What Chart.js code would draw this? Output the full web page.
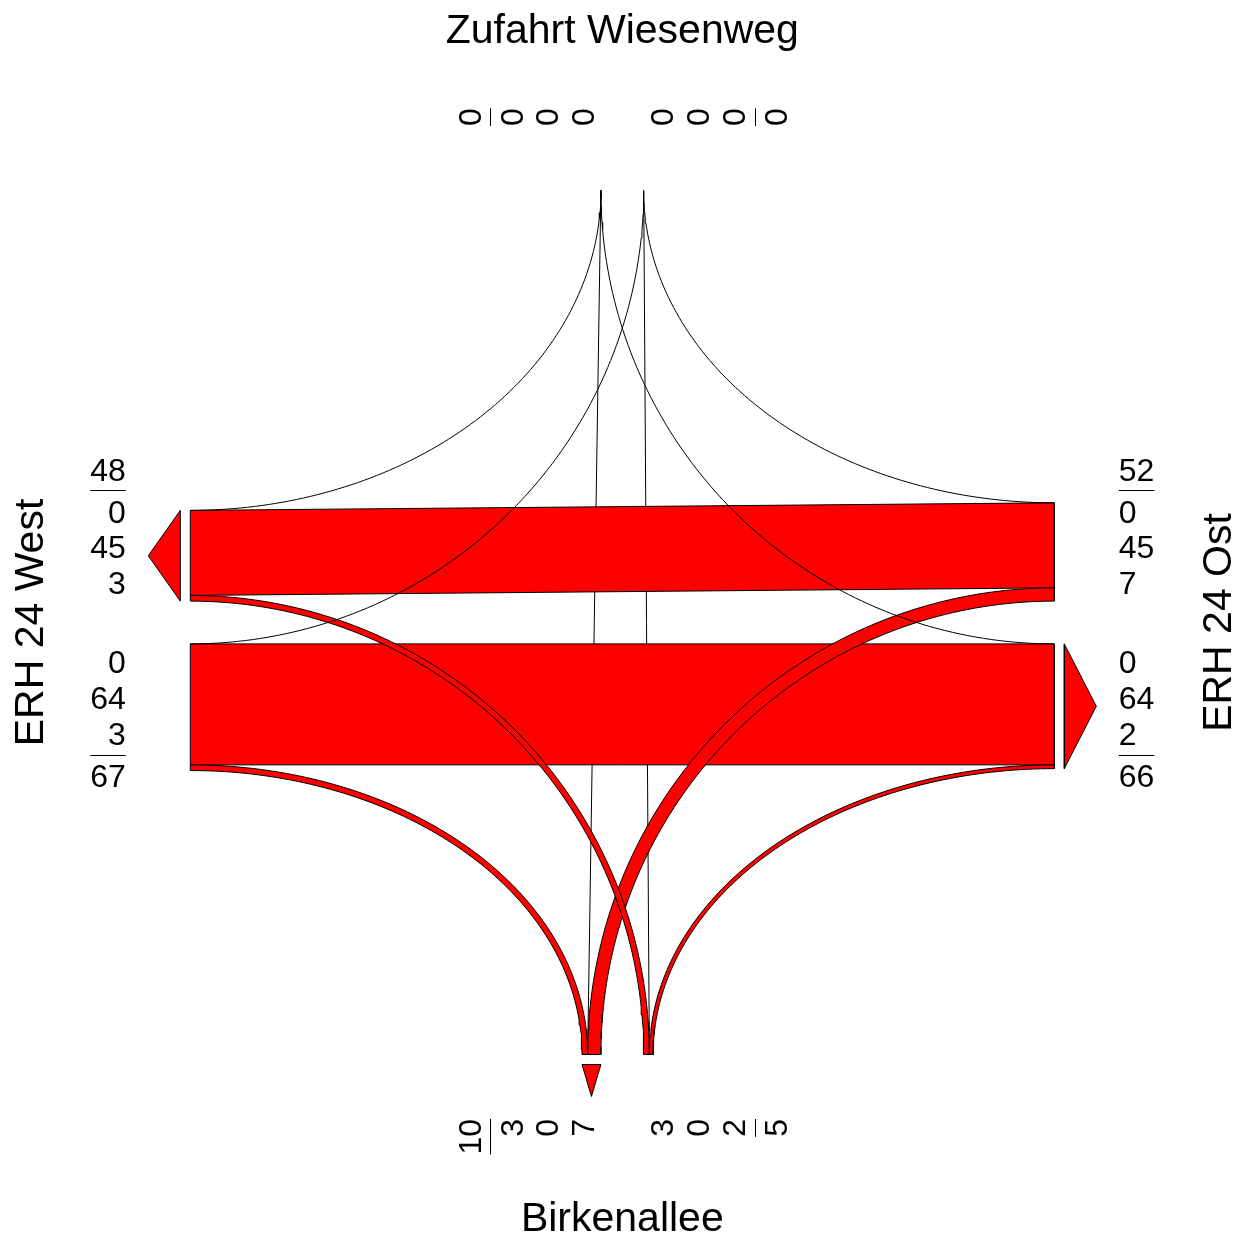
<!DOCTYPE html>
<html>
<head>
<meta charset="utf-8">
<script src="https://cdn.jsdelivr.net/npm/chart.js@4/dist/chart.umd.min.js"></script>
<style>
html,body{margin:0;padding:0;background:#fff;}
canvas{display:block;}
</style>
</head>
<body>
<canvas id="c" width="1246" height="1236"></canvas>
<script>
// ---------------- DATA ----------------
// Arms, counter-clockwise starting at the bottom: S, E, N, W
const armKeys  = ['S', 'E', 'N', 'W'];
const armNames = ['Birkenallee', 'ERH 24 Ost', 'Zufahrt Wiesenweg', 'ERH 24 West'];
// vehicles from one arm to [S, E, N, W]
const fromS = [0, 2, 0, 3];
const fromE = [7, 0, 0, 45];
const fromN = [0, 0, 0, 0];
const fromW = [3, 64, 0, 0];
const flows = [fromS, fromE, fromN, fromW];

// ---------------- LAYOUT ----------------
const CANVAS_W = 1246, CANVAS_H = 1236;
const PX = 1.89;                 // pixels per vehicle
const CX = 622.3, CY = 622.5;    // pixel centre of the junction
const R = 432 / PX;              // distance centre -> arm line
const G = 21.4 / PX;             // half gap between directions
const ARROW_GAP = 10 / PX, ARROW_LEN = 32 / PX;
const LABEL_OFF = 64.5 / PX;
const LABEL_POS = [39.5 / PX, 75.5 / PX, 111 / PX];
const SEP_POS = 132.5 / PX, TOTAL_POS = 153 / PX;
const NAME_OFF = 594 / PX;
const FONT = '"Liberation Sans", Arial, Helvetica, sans-serif';
const NUM_SIZE = 32, NAME_SIZE = 41;
const RED = '#FF0000';

// local arm coordinates (u along arm, v outward = negative) rotated to arm k
function rot(k, u, v) {
  switch (k) {
    case 0: return [u, v];
    case 1: return [-v, u];
    case 2: return [-u, -v];
    default: return [v, -u];
  }
}
function armPoint(k, u, dist) { return rot(k, u, -dist); }

// slots on every arm
const entrySlot = [[], [], [], []], exitSlot = [[], [], [], []];
for (let a = 0; a < 4; a++) {
  let u = G;
  for (const off of [3, 2, 1]) {           // left, straight, right
    const d = (a + off) % 4, n = flows[a][d];
    entrySlot[a][d] = [u, u + n]; u += n;
  }
  let w = -G;
  for (const off of [1, 2, 3]) {           // arrivals: left-turners nearest
    const j = (a + off) % 4, n = flows[j][a];
    exitSlot[a][j] = [w, w - n]; w -= n;
  }
}

function ellipse(P, aP, Q, aQ, steps) {
  steps = steps || 90;
  const pIsV = aP % 2 === 1;
  const V = pIsV ? P : Q, Hh = pIsV ? Q : P;
  const cx = V[0], cy = Hh[1];
  const pts = [];
  for (let i = 0; i <= steps; i++) {
    const t = (i / steps) * Math.PI / 2;
    pts.push([cx + (Hh[0] - cx) * Math.cos(t), cy + (V[1] - cy) * Math.sin(t)]);
  }
  return pIsV ? pts.reverse() : pts;
}

function ds(points, filled) {
  return {
    data: points.map(p => ({x: p[0], y: p[1]})),
    fill: filled ? 'shape' : false,
    backgroundColor: RED,
    borderColor: '#000000',
    borderWidth: 1,
    pointRadius: 0,
    pointHoverRadius: 0,
    tension: 0
  };
}

const zeroTurns = [], turns = [], bands = [], zeroStraight = [], arrows = [];
for (let a = 0; a < 4; a++) {
  for (const off of [1, 2, 3]) {
    const d = (a + off) % 4, n = flows[a][d];
    const e = entrySlot[a][d], x = exitSlot[d][a];
    const P1 = armPoint(a, e[0], R), P2 = armPoint(a, e[1], R);
    const Q1 = armPoint(d, x[0], R), Q2 = armPoint(d, x[1], R);
    const straight = off === 2;
    const edge1 = straight ? [P1, Q1] : ellipse(P1, a, Q1, d);
    if (n === 0) {
      (straight ? zeroStraight : zeroTurns).push(ds(edge1, false));
    } else {
      const edge2 = straight ? [Q2, P2] : ellipse(Q2, d, P2, a);
      (straight ? bands : turns).push(ds([...edge1, ...edge2, P1], true));
    }
  }
  // arrow on exit half
  const tot = [1, 2, 3].reduce((s, o) => s + flows[(a + o) % 4][a], 0);
  if (tot > 0) {
    const b = R + ARROW_GAP;
    arrows.push(ds([
      armPoint(a, -G, b), armPoint(a, -G - tot, b),
      armPoint(a, -G - tot / 2, b + ARROW_LEN), armPoint(a, -G, b)
    ], true));
  }
}
const datasets = [...zeroTurns, ...turns, ...bands, ...arrows, ...zeroStraight];

// ---------------- TEXT PLUGIN ----------------
function drawText(ctx, text, p, rotated, align, size) {
  ctx.save();
  ctx.translate(p[0], p[1]);
  if (rotated) ctx.rotate(-Math.PI / 2);
  ctx.font = size + 'px ' + FONT;
  ctx.textAlign = align;
  ctx.textBaseline = 'alphabetic';
  ctx.fillStyle = '#000';
  ctx.fillText(text, 0, size * 0.716 / 2);
  ctx.restore();
}

const textPlugin = {
  id: 'junctionText',
  afterDraw(chart) {
    const ctx = chart.ctx, xs = chart.scales.x, ys = chart.scales.y;
    const toPx = p => [xs.getPixelForValue(p[0]), ys.getPixelForValue(p[1])];
    for (let a = 0; a < 4; a++) {
      const rotated = a % 2 === 0;
      const align = (a === 0 || a === 3) ? 'right' : 'left';
      const dist = R + LABEL_OFF;
      const exitVals = [1, 2, 3].map(o => flows[(a + o) % 4][a]);
      const entryVals = [3, 2, 1].map(o => flows[a][(a + o) % 4]);
      const groups = [[exitVals, -1], [entryVals, 1]];
      for (const [vals, sign] of groups) {
        const tot = vals.reduce((s, v) => s + v, 0);
        ctx.font = NUM_SIZE + 'px ' + FONT;
        let wmax = 0;
        vals.concat([tot]).forEach(v => { wmax = Math.max(wmax, ctx.measureText(String(v)).width); });
        vals.forEach((v, i) => drawText(ctx, String(v), toPx(armPoint(a, sign * LABEL_POS[i], dist)), rotated, align, NUM_SIZE));
        drawText(ctx, String(tot), toPx(armPoint(a, sign * TOTAL_POS, dist)), rotated, align, NUM_SIZE);
        const s1 = toPx(armPoint(a, sign * SEP_POS, dist));
        const s2 = toPx(armPoint(a, sign * SEP_POS, dist + wmax / PX));
        // snap the separator to the pixel grid so it stays crisp
        if (rotated) { s1[0] = s2[0] = Math.round(s1[0]) + 0.5; }
        else { s1[1] = s2[1] = Math.round(s1[1]) + 0.5; }
        ctx.save();
        ctx.strokeStyle = '#000'; ctx.lineWidth = 1;
        ctx.beginPath(); ctx.moveTo(s1[0], s1[1]); ctx.lineTo(s2[0], s2[1]); ctx.stroke();
        ctx.restore();
      }
      drawText(ctx, armNames[a], toPx(armPoint(a, 0, NAME_OFF)), a % 2 === 1, 'center', NAME_SIZE);
    }
  }
};

new Chart(document.getElementById('c').getContext('2d'), {
  type: 'line',
  data: { datasets: datasets },
  options: {
    responsive: false,
    animation: false,
    devicePixelRatio: 1,
    events: [],
    layout: { padding: 0 },
    plugins: { legend: { display: false }, tooltip: { enabled: false }, title: { display: false } },
    scales: {
      x: { type: 'linear', display: false, min: -CX / PX, max: (CANVAS_W - CX) / PX },
      y: { type: 'linear', display: false, min: -(CANVAS_H - CY) / PX, max: CY / PX }
    }
  },
  plugins: [textPlugin]
});
</script>
</body>
</html>
